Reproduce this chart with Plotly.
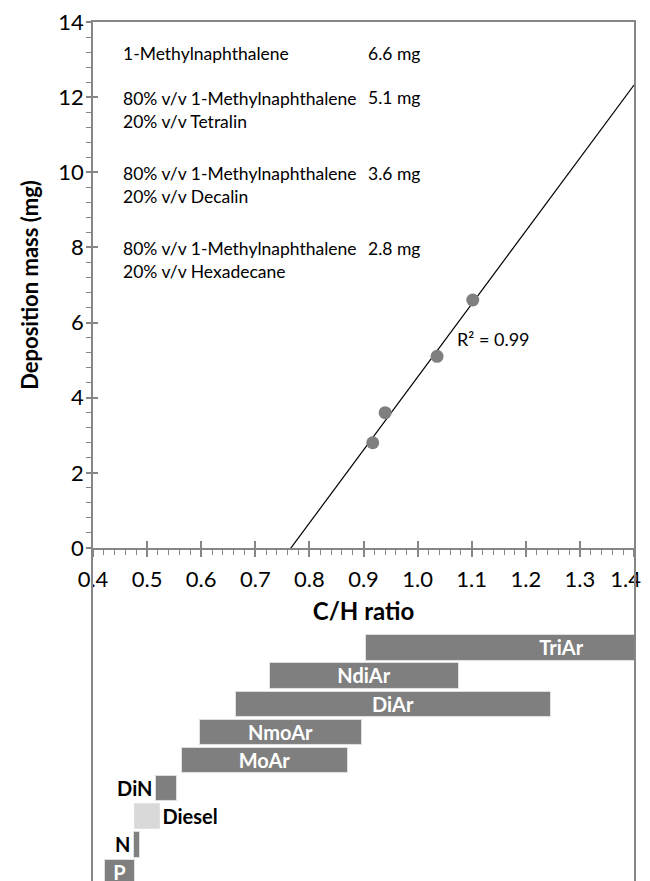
import numpy as np
import plotly.graph_objects as go

# ---- data: deposition vs C/H ratio ----
ch_ratio = [1.102, 1.036, 0.940, 0.917]
deposition_mg = [6.6, 5.1, 3.6, 2.8]

# ---- x tick labels ----
x_tick_values = [0.4, 0.5, 0.6, 0.7, 0.8, 0.9, 1.0, 1.1, 1.2, 1.3, 1.4]
x_tick_labels = ["0.4", "0.5", "0.6", "0.7", "0.8", "0.9", "1.0", "1.1", "1.2", "1.3", "1.4"]

# ---- legend-like text block ----
fuel_names = ["1-Methylnaphthalene",
              "80% v/v 1-Methylnaphthalene<br>20% v/v Tetralin",
              "80% v/v 1-Methylnaphthalene<br>20% v/v Decalin",
              "80% v/v 1-Methylnaphthalene<br>20% v/v Hexadecane"]
fuel_mass_labels = ["6.6 mg", "5.1 mg", "3.6 mg", "2.8 mg"]
r2_label = "R² = 0.99"

# ---- C/H ranges of hydrocarbon classes (bottom to top) ----
classes = ["P", "N", "Diesel", "DiN", "MoAr", "NmoAr", "DiAr", "NdiAr", "TriAr"]
ch_start = [0.423, 0.476, 0.478, 0.517, 0.565, 0.598, 0.665, 0.727, 0.905]
ch_end = [0.478, 0.486, 0.523, 0.556, 0.872, 0.898, 1.247, 1.076, 1.63]
label_side = ["inside", "left", "right", "left", "inside", "inside", "inside", "inside", "inside"]
bar_colors = ["#7f7f7f", "#7f7f7f", "#d9d9d9", "#7f7f7f", "#7f7f7f", "#7f7f7f", "#7f7f7f", "#7f7f7f", "#7f7f7f"]

FONT = "Lato"
AX = "#868686"

# linear trend
slope, intercept = np.polyfit(ch_ratio, deposition_mg, 1)
trend_x = [0.4, 1.4]
trend_y = [slope * v + intercept for v in trend_x]

fig = go.Figure()

fig.add_trace(go.Scatter(x=trend_x, y=trend_y, mode="lines",
                         line=dict(color="black", width=1.2),
                         xaxis="x", yaxis="y", showlegend=False, hoverinfo="skip"))
fig.add_trace(go.Scatter(x=ch_ratio, y=deposition_mg, mode="markers",
                         marker=dict(color="#7f7f7f", size=13),
                         xaxis="x", yaxis="y", showlegend=False))

# range bars
for name, s, e, side, col in zip(classes, ch_start, ch_end, label_side, bar_colors):
    if side == "left":
        base, length, pos, tcol = e, s - e, "outside", "black"
    elif side == "right":
        base, length, pos, tcol = s, e - s, "outside", "black"
    else:
        base, length, pos, tcol = s, e - s, "inside", "white"
    fig.add_trace(go.Bar(y=[name], x=[length], base=[base], orientation="h",
                         xaxis="x2", yaxis="y2", width=0.9,
                         marker=dict(color=col, line=dict(color="#e0e0e0", width=1)),
                         text=[name], textposition=pos, insidetextanchor="middle",
                         textangle=0,
                         textfont=dict(family=FONT, size=20, color=tcol),
                         texttemplate="<b>%{text}</b>",
                         cliponaxis=True, constraintext="none",
                         showlegend=False))

top_dom = [0.3877, 1.0]
bot_dom = [0.0, 0.3877]

# keep the last label inside the visible page edge
shown_labels = x_tick_labels[:-1] + [x_tick_labels[-1] + "\u00a0\u00a0\u00a0"]

fig.update_layout(
    width=642, height=873,
    margin=dict(l=85, r=16, t=14, b=0, autoexpand=False),
    paper_bgcolor="white", plot_bgcolor="rgba(0,0,0,0)",
    font=dict(family=FONT, color="black"),
    bargap=0,
    xaxis=dict(domain=[0, 1], range=[0.4, 1.4], anchor="y", automargin=False,
               tickvals=x_tick_values, ticktext=shown_labels,
               showgrid=False, zeroline=False,
               showline=True, linecolor=AX, linewidth=1.5, mirror=True,
               ticks="outside", ticklen=7, tickwidth=1.5, tickcolor=AX,
               minor=dict(dtick=0.02, tick0=0.4, ticks="outside", ticklen=5, tickcolor=AX, tickwidth=1),
               tickfont=dict(family=FONT, size=22), ticklabelstandoff=4,
               ticklabeloverflow="allow",
               title=dict(text="<b>C/H ratio</b>", font=dict(family=FONT, size=24), standoff=12)),
    yaxis=dict(domain=top_dom, range=[0, 14], anchor="x", automargin=False,
               dtick=2, showgrid=False, zeroline=False,
               showline=True, linecolor=AX, linewidth=1.5, mirror=True,
               ticks="outside", ticklen=5, tickwidth=1.5, tickcolor=AX,
               minor=dict(dtick=0.4, ticks="outside", ticklen=5, tickcolor=AX, tickwidth=1),
               tickfont=dict(family=FONT, size=22), ticklabelstandoff=-2,
               ticklabeloverflow="allow",
               title=dict(text="<b>Deposition mass (mg)</b>", font=dict(family=FONT, size=22), standoff=14)),
    xaxis3=dict(overlaying="x", range=[0.4, 1.4], anchor="y", tickvals=x_tick_values,
                automargin=False,
                ticks="inside", ticklen=7, tickwidth=1.5, tickcolor=AX,
                showticklabels=False, showgrid=False, zeroline=False, showline=False),
    yaxis3=dict(overlaying="y", range=[0, 14], anchor="x", dtick=2, automargin=False,
                ticks="inside", ticklen=5, tickwidth=1.5, tickcolor=AX,
                showticklabels=False, showgrid=False, zeroline=False, showline=False),
    xaxis2=dict(domain=[0, 1], range=[0.4, 1.4], anchor="y2", visible=False, automargin=False),
    yaxis2=dict(domain=bot_dom, anchor="x2", type="category", automargin=False,
                categoryorder="array", categoryarray=classes,
                range=[-0.284, 11.556],
                showline=True, linecolor=AX, linewidth=1.5, mirror=True,
                showticklabels=False, ticks="", showgrid=False, zeroline=False),
)

# dummy trace so overlay axes render
fig.add_trace(go.Scatter(x=[None], y=[None], xaxis="x3", yaxis="y3", showlegend=False))

# text block
line_y = [13.15, 11.98, 9.98, 7.98]
for name, mass, yv in zip(fuel_names, fuel_mass_labels, line_y):
    fig.add_annotation(x=0.452, y=yv, xref="x", yref="y", text=name, showarrow=False,
                       xanchor="left", yanchor="top" if "<br>" in name else "middle",
                       yshift=12 if "<br>" in name else 0,
                       align="left", font=dict(family=FONT, size=17.5))
    fig.add_annotation(x=0.905, y=yv, xref="x", yref="y", text=mass, showarrow=False,
                       xanchor="left", yanchor="middle", font=dict(family=FONT, size=17.5))

fig.add_annotation(x=1.07, y=5.55, xref="x", yref="y", text=r2_label, showarrow=False,
                   xanchor="left", yanchor="middle", font=dict(family=FONT, size=18))

fig.write_html("out.html")
